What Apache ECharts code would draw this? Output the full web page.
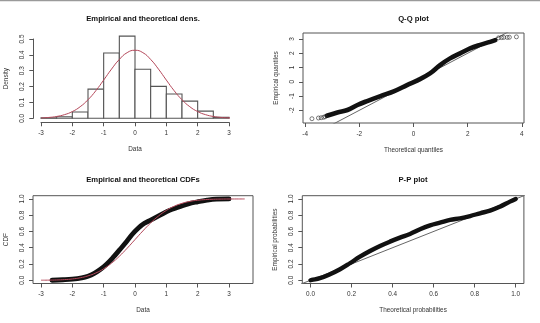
<!DOCTYPE html>
<html><head><meta charset="utf-8">
<script src="https://cdn.jsdelivr.net/npm/echarts@6/dist/echarts.min.js"></script>
<style>html,body{margin:0;padding:0;background:#fff}#c{width:540px;height:323px}</style>
</head><body><div id="c"></div>
<script>
// ---------- data ----------
const histEdges   = [-3, -2.5, -2, -1.5, -1, -0.5, 0, 0.5, 1, 1.5, 2, 2.5, 3];
const histDensity = [0.003, 0.01, 0.04, 0.184, 0.412, 0.518, 0.309, 0.201, 0.153, 0.108, 0.045, 0.007];

const densX = [-3,-2.75,-2.5,-2.25,-2,-1.75,-1.5,-1.25,-1,-0.75,-0.5,-0.25,0,0.25,0.5,0.75,1,1.25,1.5,1.75,2,2.25,2.5,2.75,3,3.25,3.5];
const densY = [0.0024,0.0054,0.0116,0.023,0.0425,0.073,0.117,0.174,0.241,0.31,0.371,0.414,0.429,0.414,0.371,0.31,0.241,0.174,0.117,0.073,0.0425,0.023,0.0116,0.0054,0.0024,0.001,0.0003];

const qqBandX = [-3.2,-2.81,-2.44,-2.07,-1.71,-1.22,-0.73,-0.24,0.15,0.61,0.98,1.35,1.72,2.09,2.46,2.83,3.02];
const qqBandY = [-2.38,-2.15,-1.98,-1.63,-1.35,-1.0,-0.67,-0.23,0.1,0.59,1.17,1.64,1.99,2.34,2.59,2.80,2.92];
const qqTailX = [-3.75,-3.51,-3.41,-3.32,-3.26,3.14,3.25,3.33,3.46,3.54,3.8];
const qqTailY = [-2.59,-2.54,-2.52,-2.49,-2.45,3.08,3.1,3.11,3.11,3.12,3.15];
const qqLineEnds = [-5, 5];

const cdfEmpX = [-2.65,-2.3,-2.0,-1.7,-1.5,-1.3,-1.1,-0.9,-0.7,-0.5,-0.3,-0.1,0.1,0.3,0.5,0.8,1.1,1.4,1.7,2.0,2.3,2.6,3.0];
const cdfEmpY = [0.0,0.006,0.014,0.03,0.05,0.085,0.135,0.2,0.28,0.37,0.46,0.56,0.64,0.70,0.74,0.80,0.86,0.90,0.94,0.965,0.985,0.997,1.0];
const cdfTheoX = densX;
const cdfTheoY = [0.0006,0.0015,0.0036,0.0078,0.0158,0.030,0.0537,0.0895,0.141,0.210,0.295,0.394,0.5,0.606,0.705,0.790,0.859,0.9105,0.946,0.970,0.984,0.992,0.9964,0.9985,0.9994,0.9998,1.0];

const ppX = [0,0.006,0.046,0.095,0.144,0.192,0.241,0.29,0.339,0.387,0.436,0.485,0.534,0.583,0.631,0.68,0.729,0.778,0.826,0.875,0.923,0.972,1.0];
const ppY = [0,0.004,0.025,0.074,0.135,0.209,0.29,0.36,0.422,0.475,0.524,0.57,0.627,0.675,0.708,0.742,0.762,0.79,0.824,0.856,0.905,0.967,1.0];
const ppLineEnds = [-1, 2];

const titles = ['Empirical and theoretical dens.', 'Q-Q plot', 'Empirical and theoretical CDFs', 'P-P plot'];
const xNames = ['Data', 'Theoretical quantiles', 'Data', 'Theoretical probabilities'];
const yNames = ['Density', 'Empirical quantiles', 'CDF', 'Empirical probabilities'];
const histXTicks = [-3,-2,-1,0,1,2,3];
const histYTicks = [0,0.1,0.2,0.3,0.4,0.5];
const qqXTicks = [-4,-2,0,2,4];
const qqYTicks = [-2,-1,0,1,2,3];
const cdfXTicks = [-3,-2,-1,0,1,2,3];
const probTicks = [0,0.2,0.4,0.6,0.8,1.0];

// ---------- chart ----------
const FONT = 'Liberation Sans, Arial, sans-serif';
const AX = '#555';
const zip = (a, b) => a.map((v, i) => [v, b[i]]);
const f1 = v => v.toFixed(1);
const f0 = v => String(v);

function xAx(gi, min, max, ticks, name, fmt, showLine, offset) {
  return {
    type: 'value', gridIndex: gi, min, max, position: 'bottom',
    name, nameLocation: 'middle', nameGap: 24,
    nameTextStyle: { fontFamily: FONT, fontSize: 6.4, color: '#333' },
    axisLine: { show: showLine, onZero: false, lineStyle: { color: AX, width: 1 } },
    axisTick: { show: true, length: 4, lineStyle: { color: AX }, customValues: ticks },
    axisLabel: { fontFamily: FONT, fontSize: 6.4, color: '#333', margin: 8, customValues: ticks, formatter: fmt },
    splitLine: { show: false }, offset: offset || 0
  };
}
function yAx(gi, min, max, ticks, name, fmt, showLine, offset) {
  return {
    type: 'value', gridIndex: gi, min, max, position: 'left',
    name, nameLocation: 'middle', nameGap: 24, nameRotate: 90,
    nameTextStyle: { fontFamily: FONT, fontSize: 6.4, color: '#333' },
    axisLine: { show: showLine, onZero: false, lineStyle: { color: AX, width: 1 } },
    axisTick: { show: true, length: 4, lineStyle: { color: AX }, customValues: ticks },
    axisLabel: { fontFamily: FONT, fontSize: 6.4, color: '#333', margin: 8, rotate: 90, customValues: ticks, formatter: fmt },
    splitLine: { show: false }, offset: offset || 0
  };
}

const grids = [
  { left: 41, top: 39, width: 188, height: 79.3, show: false },
  { left: 303, top: 33, width: 221, height: 90, show: true, borderColor: AX, borderWidth: 1, backgroundColor: 'transparent' },
  { left: 33, top: 195.7, width: 220, height: 87.8, show: true, borderColor: AX, borderWidth: 1, backgroundColor: 'transparent' },
  { left: 302.3, top: 195.7, width: 221.6, height: 87.8, show: true, borderColor: AX, borderWidth: 1, backgroundColor: 'transparent' }
];

const titleCenters = [[143, 19], [413.5, 19], [143, 180], [413, 180]];

const option = {
  animation: false,
  backgroundColor: '#fff',
  grid: grids,
  graphic: [
    { type: 'line', shape: { x1: 0, y1: 0.5, x2: 540, y2: 0.5 }, style: { stroke: '#9a9a9a', lineWidth: 1.5 } }
  ].concat(titles.map((t, i) => ({
    type: 'text', x: titleCenters[i][0], y: titleCenters[i][1],
    style: { text: t, font: 'bold 7.7px ' + FONT, fill: '#111', textAlign: 'center', textVerticalAlign: 'middle' }
  }))),
  xAxis: [
    xAx(0, -3, 3, histXTicks, xNames[0], f0, true, 4),
    xAx(1, -4.08, 4.08, qqXTicks, xNames[1], f0, false),
    xAx(2, -3.255, 3.765, cdfXTicks, xNames[2], f0, false),
    xAx(3, -0.04, 1.04, probTicks, xNames[3], f1, false)
  ],
  yAxis: [
    yAx(0, 0, 0.5, histYTicks, yNames[0], f1, true, 7.7),
    yAx(1, -2.89, 3.42, qqYTicks, yNames[1], f0, false),
    yAx(2, -0.04, 1.04, probTicks, yNames[2], f1, false),
    yAx(3, -0.04, 1.04, probTicks, yNames[3], f1, false)
  ],
  series: [
    {
      type: 'custom', xAxisIndex: 0, yAxisIndex: 0, clip: false,
      data: histDensity.map((d, i) => [histEdges[i], histEdges[i + 1], d]),
      encode: { x: [0, 1], y: 2 },
      renderItem: function (params, api) {
        const p0 = api.coord([api.value(0), api.value(2)]);
        const p1 = api.coord([api.value(1), 0]);
        return { type: 'rect', shape: { x: p0[0], y: p0[1], width: p1[0] - p0[0], height: p1[1] - p0[1] },
          style: { fill: '#fff', stroke: '#555', lineWidth: 1.1 } };
      }, z: 2
    },
    {
      type: 'line', xAxisIndex: 0, yAxisIndex: 0, clip: false, smooth: true, symbol: 'none',
      data: zip(densX, densY), lineStyle: { color: '#b4485a', width: 1 }, z: 3
    },
    {
      type: 'line', xAxisIndex: 1, yAxisIndex: 1, clip: true, symbol: 'none',
      data: qqLineEnds.map(v => [v, v]), lineStyle: { color: '#666', width: 1 }, z: 2
    },
    {
      type: 'line', xAxisIndex: 1, yAxisIndex: 1, clip: true, symbol: 'none', smooth: 0.4,
      data: zip(qqBandX, qqBandY), lineStyle: { color: '#111', width: 4.6, cap: 'round', join: 'round' }, z: 3
    },
    {
      type: 'scatter', xAxisIndex: 1, yAxisIndex: 1, symbol: 'circle', symbolSize: 4,
      data: zip(qqTailX, qqTailY),
      itemStyle: { color: 'rgba(255,255,255,0)', borderColor: '#333', borderWidth: 0.8 }, z: 4
    },
    {
      type: 'line', xAxisIndex: 2, yAxisIndex: 2, clip: true, symbol: 'none', smooth: 0.4,
      data: zip(cdfEmpX, cdfEmpY), lineStyle: { color: '#111', width: 4.8, cap: 'round', join: 'round' }, z: 2
    },
    {
      type: 'line', xAxisIndex: 2, yAxisIndex: 2, clip: true, symbol: 'none', smooth: true,
      data: zip(cdfTheoX, cdfTheoY), lineStyle: { color: '#b4485a', width: 1 }, z: 3
    },
    {
      type: 'line', xAxisIndex: 3, yAxisIndex: 3, clip: true, symbol: 'none',
      data: ppLineEnds.map(v => [v, v]), lineStyle: { color: '#666', width: 1 }, z: 2
    },
    {
      type: 'line', xAxisIndex: 3, yAxisIndex: 3, clip: true, symbol: 'none', smooth: 0.4,
      data: zip(ppX, ppY), lineStyle: { color: '#111', width: 4.4, cap: 'round', join: 'round' }, z: 3
    }
  ]
};

const chart = echarts.init(document.getElementById('c'), null, { renderer: 'canvas' });
chart.setOption(option);
</script></body></html>
